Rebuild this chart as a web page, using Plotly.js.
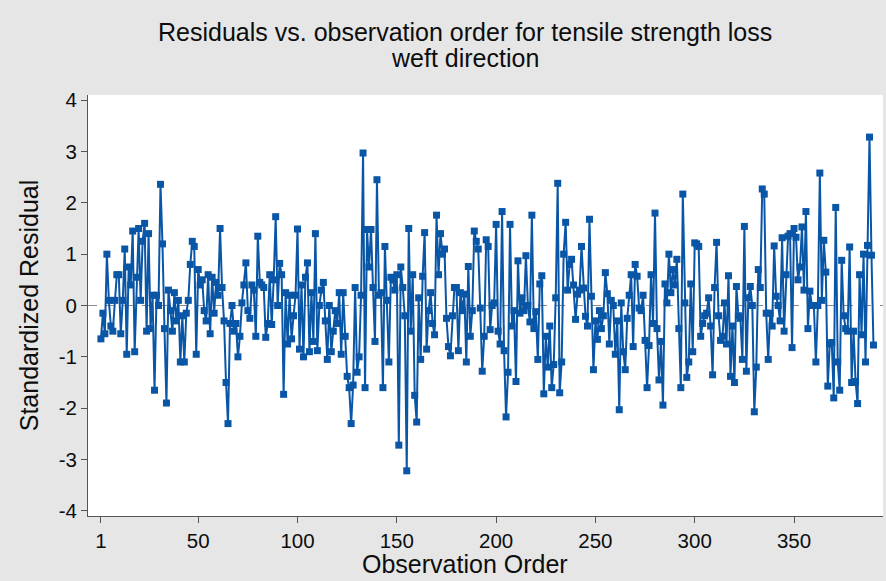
<!DOCTYPE html>
<html>
<head>
<meta charset="utf-8">
<script src="https://cdn.plot.ly/plotly-3.0.1.min.js"></script>
<style>
  html, body { margin: 0; padding: 0; background: #e6e6e6; }
  #chart { width: 886px; height: 581px; }
</style>
</head>
<body>
<div id="chart"></div>
<script>
// Standardized residuals in observation order (tensile strength loss, weft direction)
const residuals = [
  // 1-28
  -0.65, -0.15, -0.55, 1.0, 0.1, -0.4, -0.5, 0.1, 0.6, 0.6, -0.55, 0.1, 1.1, -0.95, 0.75, 0.4, 1.45, -0.9, 0.55, 1.5, 0.1, 1.25, 1.6, -0.5, 1.4, -0.45, 0.2, -1.65,
  // 29-61
  0.2, 0.0, 2.36, 1.2, -0.45, -1.9, 0.3, -0.1, -0.5, 0.25, -0.3, 0.1, -1.1, -0.2, -1.1, -0.15, 0.1, 0.8, 1.25, 1.15, -0.95, 0.7, 0.4, 0.5, -0.1, -0.3, 0.6, -0.55, 0.55, -0.15, 0.45, 0.2, 1.5,
  // 62-95
  0.35, -0.3, -1.5, -2.3, -0.35, 0.0, -0.5, -0.35, -1.0, -0.6, 0.05, 0.4, 0.83, -0.1, -0.25, 0.4, 0.3, -0.6, 1.35, 0.45, 0.4, 0.35, -0.62, -0.35, 0.6, -0.37, 0.5, 1.73, 0.0, 0.82, 0.6, -1.73, 0.25, -0.75,
  // 96-127
  0.2, -0.65, -0.2, 0.2, 1.49, -0.85, 0.4, -1.0, 0.55, 0.83, -0.9, 0.25, -0.7, 1.4, -0.88, 0.0, 0.3, 0.45, -0.3, -1.05, 0.0, -0.9, -0.5, -0.1, -0.35, 0.25, -0.95, 0.25, -0.6, -1.38, -1.6, -2.3,
  // 128-162
  -1.55, 0.35, -1.3, -1.0, 0.2, 2.97, -1.6, 1.48, 0.75, 1.48, 0.35, -0.7, 2.45, 0.2, 0.25, -1.6, 1.15, 0.1, -1.1, 0.55, 0.5, 0.3, 0.6, -2.72, 0.75, 0.35, -0.2, -3.22, 1.5, -0.5, 0.6, -1.75, -2.27, 0.15, -1.05,
  // 163-195
  0.57, 1.42, -0.85, -0.1, 0.25, -0.35, -0.57, 1.76, 0.6, 1.4, 1.0, 1.1, -0.25, -0.8, -0.98, -0.2, 0.35, 0.35, -0.88, 0.25, -0.1, 0.22, -1.1, 0.76, -0.6, -0.1, 1.45, 1.25, 1.1, -0.05, -1.28, -0.6, 1.28,
  // 196-227
  1.15, -0.47, 0.0, 0.05, 1.58, -0.5, -0.75, 1.83, -0.88, -2.17, -1.3, 1.58, -0.4, -0.1, -1.48, 0.87, -0.15, 0.15, -0.1, 0.97, 0.0, -0.32, 1.76, -0.45, -0.12, -1.05, 0.42, 0.58, -1.72, -0.6, -1.2, -0.4,
  // 228-262
  -1.6, -1.15, 0.15, 2.38, -1.7, -1.1, 1.0, 1.62, 0.3, 0.8, 0.9, 0.4, -0.27, 0.22, 0.3, 1.15, 0.34, -0.21, -0.4, 1.68, 0.18, -1.25, -0.3, -0.66, -0.1, -0.45, -0.2, 0.64, 0.23, -0.75, 0.1, 0.0, -0.95, -0.3, -2.03,
  // 263-296
  0.05, -0.9, -1.25, -0.25, 0.2, 0.6, -0.8, 0.8, 0.57, -0.05, -0.1, 0.2, -0.68, -1.6, -0.78, 0.6, -0.35, 1.8, -0.45, -1.45, -0.7, -1.94, 0.42, 0.05, 1.0, 0.25, 0.7, 0.4, 0.9, -0.45, -1.6, 2.17, 0.05, -1.4,
  // 297-328
  -1.1, 0.42, -0.9, 1.22, 1.2, 1.15, -0.6, -0.35, -0.2, -0.15, 0.15, -0.4, -1.35, 0.35, 1.23, -0.2, -0.68, -0.6, 0.05, -0.75, 0.58, -1.38, -0.4, -1.5, 0.37, -0.2, -0.25, -1.05, 1.54, -1.28, 0.15, 0.37,
  // 329-361
  0.0, -2.07, -1.2, 0.7, 0.35, 2.27, 2.17, -0.15, -1.05, -0.15, -0.4, 1.16, 0.18, 0.0, -0.3, 1.32, -0.5, 0.6, 1.35, 1.4, -0.82, 1.5, 1.33, 0.5, 0.75, 1.53, 0.3, 1.83, -0.45, 0.28, 0.0, 0.0, -1.1,
  // 362-390
  0.0, 2.58, 0.1, 1.27, 0.65, -1.57, -0.75, -0.72, -1.8, 1.91, -1.1, -1.65, 0.88, -0.2, -0.45, -0.5, 1.14, -1.5, -0.5, -1.48, -1.91, 0.6, -0.57, 1.0, -1.1, 1.17, 3.28, 0.98, -0.77
];

const order = residuals.map((_, i) => i + 1);

const xTicks = [1, 50, 100, 150, 200, 250, 300, 350];
const yTicks = [-4, -3, -2, -1, 0, 1, 2, 3, 4];

const titleLines = ['Residuals vs. observation order for tensile strength loss', 'weft direction'];
const xTitle = 'Observation Order';
const yTitle = 'Standardized Residual';

const blue = '#0a56a6';
const ink = '#0d0d0d';
const font = 'Liberation Sans, Arial, sans-serif';

const trace = {
  x: order,
  y: residuals,
  type: 'scatter',
  mode: 'lines+markers',
  line: { color: blue, width: 2 },
  marker: { symbol: 'square', size: 7, color: blue },
  hoverinfo: 'x+y'
};

const layout = {
  width: 886,
  height: 581,
  paper_bgcolor: '#e6e6e6',
  plot_bgcolor: '#ffffff',
  margin: { l: 88, r: 3, t: 95, b: 65 },
  showlegend: false,
  font: { family: font, color: ink },
  // first title line; the second line sits in an annotation below it
  title: {
    text: titleLines[0],
    font: { family: font, size: 25, color: ink },
    xref: 'container', x: 0.525, xanchor: 'center',
    yref: 'container', y: 1 - 32 / 581, yanchor: 'middle'
  },
  annotations: [
    {
      text: titleLines[1], showarrow: false,
      xref: 'paper', x: 0.474, xanchor: 'center',
      yref: 'paper', y: 1 + (95 - 58) / 421, yanchor: 'middle',
      font: { family: font, size: 25, color: ink }
    },
    {
      text: xTitle, showarrow: false,
      xref: 'paper', x: 0.474, xanchor: 'center',
      yref: 'paper', y: -(564 - 516) / 421, yanchor: 'middle',
      font: { family: font, size: 25, color: ink }
    }
  ],
  xaxis: {
    range: [-5.5, 394.8],
    tickvals: xTicks,
    ticktext: xTicks.map(String),
    ticks: 'outside', ticklen: 6, tickcolor: '#555555', tickwidth: 1,
    showline: true, linecolor: '#555555', linewidth: 1,
    showgrid: false, zeroline: false,
    tickfont: { family: font, size: 20.5, color: ink }
  },
  yaxis: {
    range: [-4.1, 4.1],
    tickvals: yTicks,
    ticktext: yTicks.map(String),
    ticks: 'outside', ticklen: 6, tickcolor: '#555555', tickwidth: 1,
    showline: true, linecolor: '#555555', linewidth: 1,
    showgrid: false, zeroline: false,
    tickfont: { family: font, size: 20.5, color: ink },
    title: { text: yTitle, font: { family: font, size: 25, color: ink }, standoff: 12 }
  },
  shapes: [{
    type: 'line', xref: 'paper', x0: 0, x1: 1, yref: 'y', y0: 0, y1: 0,
    line: { color: '#8c8c8c', width: 1.2, dash: 'dash' },
    layer: 'below'
  }]
};

Plotly.newPlot('chart', [trace], layout, { displayModeBar: false, staticPlot: true });
</script>
</body>
</html>
